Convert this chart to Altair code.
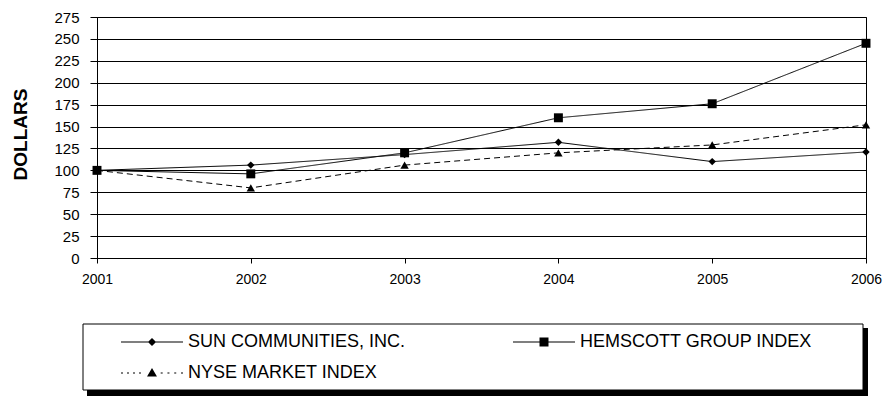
import altair as alt
import pandas as pd

years = [2001, 2002, 2003, 2004, 2005, 2006]
series = ["SUN COMMUNITIES, INC.", "HEMSCOTT GROUP INDEX", "NYSE MARKET INDEX"]
sun = [100, 106, 118, 132, 110, 121]
hem = [100, 96, 120, 160, 176, 245]
nyse = [100, 80, 106, 120, 129, 152]
y_ticks = list(range(0, 276, 25))

rows = []
for name, vals in zip(series, [sun, hem, nyse]):
    for yr, v in zip(years, vals):
        rows.append({"year": yr, "value": v, "series": name})
df = pd.DataFrame(rows)

FONT = "Liberation Sans"

# legend symbol paths (unit space [-1, 1]); everything filled
H = 0.019
p_line = f"M-1,{-H}H1V{H}H-1Z"


def dots(a, b, n):
    step = (b - a) / (n - 1)
    return "".join(f"M{a + i*step:.3f},{-H}h0.065v{2*H}h-0.065Z" for i in range(n))


p_sun = p_line + "M0,-0.13L0.13,0L0,0.13L-0.13,0Z"
p_hem = p_line + "M-0.145,-0.145H0.145V0.145H-0.145Z"
p_nyse = dots(-1, -0.42, 4) + dots(0.28, 0.935, 4) + "M0,-0.16L0.16,0.11H-0.16Z"

x_enc = alt.X("year:Q", scale=alt.Scale(domain=[2001, 2006], nice=False),
              axis=alt.Axis(values=years, format="d", title=None, grid=False,
                            tickSize=5, labelPadding=9, labelFontSize=14,
                            labelFlush=False))
y_enc = alt.Y("value:Q", scale=alt.Scale(domain=[0, 275], nice=False),
              axis=alt.Axis(values=y_ticks, title="DOLLARS", grid=True,
                            gridColor="black", gridOpacity=1, gridWidth=1,
                            tickSize=7, labelPadding=11, labelFontSize=15,
                            labelOverlap=False,
                            titleFontSize=19, titleFontWeight="bold",
                            titleX=-77, titleY=117, titleAngle=270,
                            titleBaseline="middle", titleAlign="center"))

base = alt.Chart(df)

dashes = [[1, 0], [1, 0], [6, 4]]
shapes = ["diamond", "square", "triangle-up"]
sizes = [55, 80, 70]

layers = []
for name, dash in zip(series, dashes):
    layers.append(
        base.transform_filter(alt.datum.series == name)
        .mark_line(color="black", strokeWidth=1, strokeDash=dash)
        .encode(x=x_enc, y=y_enc)
    )
for name, shp, sz in zip(series, shapes, sizes):
    layers.append(
        base.transform_filter(alt.datum.series == name)
        .mark_point(filled=True, color="black", opacity=1, shape=shp, size=sz)
        .encode(x=x_enc, y=y_enc)
    )

# legend frame with drop shadow (decoration, in pixels relative to the plot origin)
one = pd.DataFrame({"a": [0]})
shadow = alt.Chart(one).mark_rect(color="black", opacity=1).encode(
    x=alt.value(-10), x2=alt.value(771), y=alt.value(311), y2=alt.value(379)
)
frame = alt.Chart(one).mark_rect(fill="white", stroke="black", strokeWidth=1).encode(
    x=alt.value(-14), x2=alt.value(766), y=alt.value(307), y2=alt.value(373)
)
layers += [shadow, frame]

legend_layer = base.mark_point(filled=True, fill="black", opacity=1).encode(
    x=x_enc, y=y_enc,
    shape=alt.Shape("series:N", scale=alt.Scale(domain=series, range=[p_sun, p_hem, p_nyse]),
                    legend=alt.Legend(title=None, orient="none", legendX=-6, legendY=314,
                                      direction="horizontal",
                                      columns=2, symbolSize=3844, symbolStrokeWidth=0,
                                      symbolFillColor="black",
                                      clipHeight=22, rowPadding=9, columnPadding=77,
                                      padding=0, symbolOffset=30, labelOffset=5,
                                      labelFontSize=18, labelFont=FONT, labelColor="black",
                                      labelLimit=0)),
).transform_filter("false")
layers.append(legend_layer)

chart = alt.layer(*layers).properties(
    width=769, height=241,
    autosize=alt.AutoSizeParams(type="none"),
    padding={"left": 97, "top": 17, "right": 21, "bottom": 138},
    background="white",
).configure_view(stroke="black", strokeWidth=1).configure_axis(
    labelFont=FONT, titleFont=FONT, labelColor="black", titleColor="black",
    domainColor="black", tickColor="black", domainWidth=1, tickWidth=1,
)

chart.save("out.html", embed_options={"renderer": "svg", "actions": False})
